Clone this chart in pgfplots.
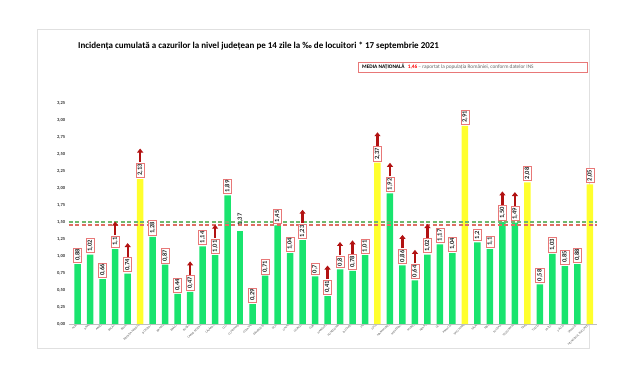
\documentclass[border=0pt]{standalone}
\usepackage{pgfplots}
\pgfplotsset{compat=1.18}
\usepackage{fontspec}
\setmainfont{Carlito}
\usetikzlibrary{arrows.meta}
\definecolor{bargreen}{RGB}{25,228,110}
\definecolor{baryellow}{RGB}{255,255,45}
\definecolor{boxred}{RGB}{232,120,120}
\definecolor{arrred}{RGB}{178,18,18}
\definecolor{dashgreen}{RGB}{110,185,110}
\definecolor{dashred}{RGB}{222,110,100}
\begin{document}
\begin{tikzpicture}[x=1bp,y=1bp]
\path[use as bounding box] (0,0) rectangle (620,364);
\draw[black!12,line width=0.8bp] (37,16) rectangle (589,335);
\node[anchor=west,inner sep=0pt,font=\fontsize{9bp}{10bp}\selectfont\bfseries] at (78,318)
  {Incidența cumulată a cazurilor la nivel județean pe 14 zile la ‰ de locuitori * 17 septembrie 2021};
\draw[boxred,line width=0.6bp,fill=white] (358,292) rectangle (587,302);
\node[anchor=west,inner sep=0pt,font=\fontsize{5.3bp}{6bp}\selectfont] at (362,297)
  {\textbf{MEDIA NAȚIONALĂ} \hspace{2bp}\textcolor{red}{\textbf{1,46}} \textcolor{black!60}{– raportat la populația României, conform datelor INS}};
\begin{axis}[
  at={(55,59)}, anchor=south west,
  scale only axis, width=530bp, height=221bp,
  xmin=0.28, xmax=42.71, ymin=0, ymax=3.25,
  axis line style={draw=none},
  major tick length=0pt,
  clip=false,
  ytick={0,0.25,0.5,0.75,1,1.25,1.5,1.75,2,2.25,2.5,2.75,3,3.25},
  yticklabel style={font=\fontsize{4.6bp}{5bp}\selectfont\bfseries, text=black!80,
    /pgf/number format/.cd, fixed, fixed zerofill, precision=2, use comma, assume math mode=true},
  xtick={1,...,42},
  xticklabels={ALBA,ARAD,ARGEȘ,BACĂU,BIHOR,BISTRIȚA-NĂSĂUD,BOTOȘANI,BRAȘOV,BRĂILA,BUZĂU,CARAȘ-SEVERIN,CĂLĂRAȘI,CLUJ,CONSTANȚA,COVASNA,DÂMBOVIȚA,DOLJ,GALAȚI,GIURGIU,GORJ,HARGHITA,HUNEDOARA,IALOMIȚA,IAȘI,ILFOV,MARAMUREȘ,MEHEDINȚI,MUREȘ,NEAMȚ,OLT,PRAHOVA,SATU MARE,SĂLAJ,SIBIU,SUCEAVA,TELEORMAN,TIMIȘ,TULCEA,VASLUI,VÂLCEA,VRANCEA,MUNICIPIUL BUCUREȘTI},
  xticklabel style={rotate=45, anchor=east, font=\fontsize{3bp}{3.3bp}\selectfont, text=black!65, inner sep=0.8bp},
]
\addplot[black!25, line width=0.5bp] coordinates {(0.28,0) (42.55,0)};
\addplot[ybar, bar width=6.5bp, bar shift=0pt, fill=bargreen, draw=none,
  point meta=explicit symbolic,
  nodes near coords, nodes near coords align={horizontal},
  every node near coord/.append style={yshift=1.5bp, rotate=90, anchor=west, draw=boxred, line width=0.6bp, fill=white, inner sep=1.4bp, text=black!85, font=\fontsize{6.5bp}{6.5bp}\selectfont\bfseries}]
  table[meta=l] {
x y l
1 0.88 0,88
2 1.02 1,02
3 0.66 0,66
4 1.10 1,1
5 0.74 0,74
7 1.28 1,28
8 0.87 0,87
9 0.44 0,44
10 0.47 0,47
11 1.14 1,14
12 1.01 1,01
13 1.89 1,89
15 0.29 0,29
16 0.71 0,71
17 1.45 1,45
18 1.04 1,04
19 1.23 1,23
20 0.70 0,7
21 0.41 0,41
22 0.80 0,8
23 0.78 0,78
24 1.01 1,01
26 1.92 1,92
27 0.86 0,86
28 0.64 0,64
29 1.02 1,02
30 1.17 1,17
31 1.04 1,04
33 1.20 1,2
34 1.10 1,1
35 1.50 1,50
36 1.49 1,49
38 0.58 0,58
39 1.03 1,03
40 0.85 0,85
41 0.88 0,88
};
\addplot[ybar, bar width=6.5bp, bar shift=0pt, fill=bargreen, draw=none,
  point meta=explicit symbolic,
  nodes near coords, nodes near coords align={horizontal},
  every node near coord/.append style={yshift=4bp, rotate=90, anchor=west, inner sep=1.4bp, text=black!85, font=\fontsize{6.5bp}{6.5bp}\selectfont\bfseries}]
  table[meta=l] {
x y l
14 1.37 1,37
};
\addplot[ybar, bar width=6.5bp, bar shift=0pt, fill=baryellow, draw=none,
  point meta=explicit symbolic,
  nodes near coords, nodes near coords align={horizontal},
  every node near coord/.append style={yshift=1.5bp, rotate=90, anchor=west, draw=boxred, line width=0.6bp, fill=white, inner sep=1.4bp, text=black!85, font=\fontsize{6.5bp}{6.5bp}\selectfont\bfseries}]
  table[meta=l] {
x y l
6 2.13 2,13
25 2.37 2,37
32 2.91 2,91
37 2.08 2,08
42 2.05 2,05
};
\addplot[dashgreen, line width=1.8bp, dash pattern=on 4bp off 2.5bp] coordinates {(0.28,1.50) (42.55,1.50)};
\addplot[dashred, line width=1.8bp, dash pattern=on 4bp off 2.5bp] coordinates {(0.28,1.46) (42.55,1.46)};
\tikzset{arr/.style={arrred, line width=2.2bp, -{Triangle[length=4bp,width=6bp]}}}
\draw[arr] ([yshift=14bp]axis cs:4,1.10) -- ([yshift=27.5bp]axis cs:4,1.10);
\draw[arr] ([yshift=17bp]axis cs:5,0.74) -- ([yshift=30.5bp]axis cs:5,0.74);
\draw[arr] ([yshift=17bp]axis cs:6,2.13) -- ([yshift=30.5bp]axis cs:6,2.13);
\draw[arr] ([yshift=17bp]axis cs:10,0.47) -- ([yshift=30.5bp]axis cs:10,0.47);
\draw[arr] ([yshift=17bp]axis cs:12,1.01) -- ([yshift=30.5bp]axis cs:12,1.01);
\draw[arr] ([yshift=17bp]axis cs:19,1.23) -- ([yshift=30.5bp]axis cs:19,1.23);
\draw[arr] ([yshift=17bp]axis cs:21,0.41) -- ([yshift=30.5bp]axis cs:21,0.41);
\draw[arr] ([yshift=14bp]axis cs:22,0.80) -- ([yshift=27.5bp]axis cs:22,0.80);
\draw[arr] ([yshift=17bp]axis cs:23,0.78) -- ([yshift=30.5bp]axis cs:23,0.78);
\draw[arr] ([yshift=17bp]axis cs:25,2.37) -- ([yshift=30.5bp]axis cs:25,2.37);
\draw[arr] ([yshift=17bp]axis cs:26,1.92) -- ([yshift=30.5bp]axis cs:26,1.92);
\draw[arr] ([yshift=17bp]axis cs:27,0.86) -- ([yshift=30.5bp]axis cs:27,0.86);
\draw[arr] ([yshift=17bp]axis cs:28,0.64) -- ([yshift=30.5bp]axis cs:28,0.64);
\draw[arr] ([yshift=17bp]axis cs:29,1.02) -- ([yshift=30.5bp]axis cs:29,1.02);
\draw[arr] ([yshift=17bp]axis cs:35,1.50) -- ([yshift=30.5bp]axis cs:35,1.50);
\draw[arr] ([yshift=17bp]axis cs:36,1.49) -- ([yshift=30.5bp]axis cs:36,1.49);
\end{axis}
\end{tikzpicture}
\end{document}
